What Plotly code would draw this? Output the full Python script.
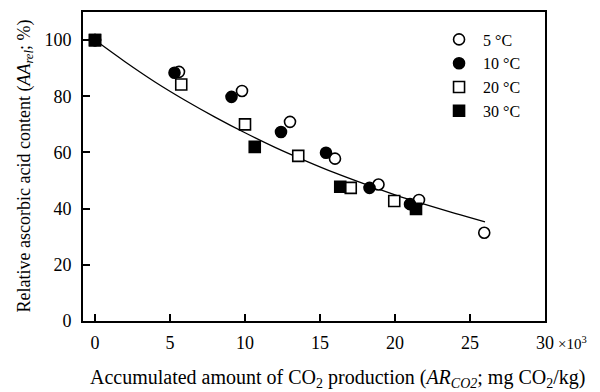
import plotly.graph_objects as go

# Data
x_5 = [0, 5.6, 9.8, 13.0, 16.0, 18.9, 21.6, 25.95]
y_5 = [100, 88.7, 81.9, 70.9, 57.8, 48.6, 43.1, 31.4]

x_10 = [0, 5.3, 9.1, 12.4, 15.4, 18.3, 21.0]
y_10 = [100, 88.4, 79.8, 67.3, 59.9, 47.4, 41.6]

x_20 = [0, 5.75, 10.0, 13.55, 17.05, 19.95]
y_20 = [100, 84.2, 70.0, 58.8, 47.4, 42.7]

x_30 = [0, 10.65, 16.35, 21.4]
y_30 = [100, 62.0, 47.8, 39.9]

curve_x = [0, 2, 4, 6, 8, 10, 12, 14, 16, 18, 20, 22, 24, 26]
curve_y = [100, 92.3, 85.1, 78.6, 72.6, 67.0, 61.8, 57.1, 52.7, 48.7, 44.9, 41.5, 38.3, 35.3]

x_ticks = [0, 5, 10, 15, 20, 25, 30]
y_ticks = [0, 20, 40, 60, 80, 100]

FONT = "Liberation Serif"

fig = go.Figure()
fig.add_trace(go.Scatter(x=curve_x, y=curve_y, mode="lines", line=dict(color="black", width=1.3, shape="spline"),
                         showlegend=False, hoverinfo="skip"))

series = [
    ("5 °C", x_5, y_5, "circle", "white"),
    ("10 °C", x_10, y_10, "circle", "black"),
    ("20 °C", x_20, y_20, "square", "white"),
    ("30 °C", x_30, y_30, "square", "black"),
]
for name, xs, ys, sym, fill in series:
    fig.add_trace(go.Scatter(x=xs, y=ys, mode="markers", name=name,
                             marker=dict(symbol=sym, size=11, color=fill,
                                         line=dict(color="black", width=1.6))))

# The page body adds an 8px offset, so the figure is 592x384 placed at (8, 8)
fig.update_layout(
    width=592, height=384,
    margin=dict(l=75, r=55, t=4, b=71, autoexpand=False),
    paper_bgcolor="white", plot_bgcolor="white",
    font=dict(family=FONT, size=18, color="black"),
    showlegend=True,
    legend=dict(x=0.762, y=0.966, xanchor="left", yanchor="top", bgcolor="rgba(0,0,0,0)",
                font=dict(family=FONT, size=16), itemwidth=38, tracegroupgap=0),
    xaxis=dict(range=[-0.8, 30], tickvals=x_ticks, ticktext=[str(v) for v in x_ticks],
               showgrid=False, zeroline=False, showline=True, linecolor="black", linewidth=2,
               mirror=True, ticks="inside", ticklen=7, tickwidth=1.5, tickcolor="black",
               ticklabelstandoff=4, automargin=False),
    yaxis=dict(range=[0, 110], tickvals=y_ticks, ticktext=[str(v) for v in y_ticks],
               showgrid=False, zeroline=False, showline=True, linecolor="black", linewidth=2,
               mirror=True, ticks="inside", ticklen=7, tickwidth=1.5, tickcolor="black",
               ticklabelstandoff=6, automargin=False),
)

# y-axis title
fig.add_annotation(x=0, y=0.5, xref="paper", yref="paper", xanchor="center", yanchor="middle",
                   xshift=-58, textangle=-90,
                   text="Relative ascorbic acid content (<i>AA</i><sub><i>rel</i></sub>; %)",
                   showarrow=False, font=dict(family=FONT, size=18))

# x-axis title (offset to the right, as in the reference)
fig.add_annotation(x=0.5, y=0, xref="paper", yref="paper", xanchor="center", yanchor="middle",
                   xshift=23, yshift=-57,
                   text="Accumulated amount of CO<sub>2</sub> production (<i>AR</i><sub><i>CO2</i></sub>; mg CO<sub>2</sub>/kg)",
                   showarrow=False, font=dict(family=FONT, size=20))

fig.add_annotation(x=1.0, y=0, xref="paper", yref="paper", xanchor="left", yanchor="middle",
                   xshift=11, yshift=-22, text="×10<sup>3</sup>", showarrow=False,
                   font=dict(family=FONT, size=15))

fig.write_html("out.html")
